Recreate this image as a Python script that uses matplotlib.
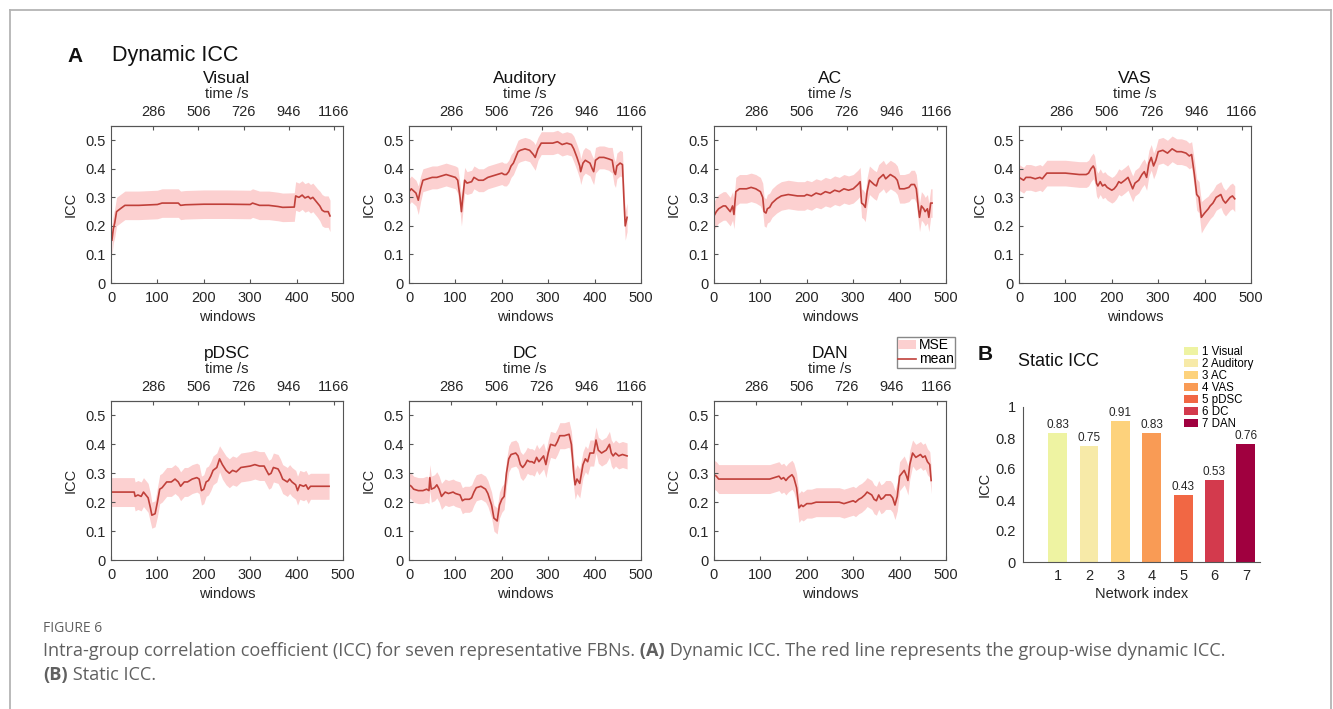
import numpy as np
import matplotlib
matplotlib.use('Agg')
import matplotlib.pyplot as plt
from matplotlib.patches import Patch
from matplotlib.lines import Line2D

plt.rcParams['font.family'] = ['Liberation Sans', 'DejaVu Sans']

# dynamic ICC per network: (window, mean ICC, MSE)
visual = [(2, .15, .05), (5, .19, .05), (8, .21, .05), (12, .25, .05), (20, .26, .05), (30, .272, .05),
          (60, .272, .05), (100, .275, .05), (110, .28, .05), (145, .28, .05), (150, .272, .05),
          (160, .274, .05), (200, .276, .05), (250, .276, .05), (300, .275, .05), (305, .28, .05),
          (320, .272, .05), (340, .272, .05), (360, .268, .05), (370, .265, .05), (395, .266, .05),
          (398, .305, .05), (405, .30, .05), (412, .308, .05), (418, .298, .05), (425, .303, .05),
          (430, .295, .05), (435, .30, .05), (440, .29, .05), (445, .28, .05), (450, .27, .052),
          (455, .255, .055), (460, .25, .055), (468, .25, .055), (472, .235, .055)]

auditory = [(0, .32, .045), (5, .33, .045), (15, .315, .045), (20, .29, .05), (25, .33, .045),
            (30, .36, .04), (40, .365, .04), (50, .37, .04), (60, .37, .04), (70, .375, .04),
            (80, .38, .04), (90, .375, .04), (100, .37, .04), (105, .36, .045), (110, .30, .05),
            (113, .25, .05), (116, .30, .05), (120, .36, .045), (125, .35, .04), (135, .355, .04),
            (140, .37, .04), (150, .36, .04), (160, .36, .04), (170, .37, .04), (180, .375, .04),
            (190, .38, .04), (200, .385, .04), (205, .38, .04), (210, .38, .04), (215, .39, .04),
            (220, .41, .04), (225, .42, .04), (230, .44, .04), (235, .46, .04), (240, .465, .04),
            (250, .47, .04), (260, .465, .04), (268, .45, .045), (272, .44, .045), (278, .47, .04),
            (285, .49, .04), (300, .49, .04), (310, .49, .04), (320, .495, .04), (330, .485, .04),
            (340, .49, .04), (350, .485, .04), (355, .47, .045), (362, .44, .045), (368, .41, .045),
            (370, .39, .045), (375, .42, .045), (380, .43, .045), (390, .42, .045), (395, .40, .045),
            (398, .39, .045), (402, .43, .045), (410, .44, .04), (420, .44, .04), (430, .435, .04),
            (438, .43, .045), (442, .39, .045), (445, .38, .045), (448, .41, .045), (455, .42, .045),
            (460, .415, .045), (463, .30, .05), (466, .20, .05), (470, .23, .05)]

ac = [(0, .235, .05), (5, .25, .05), (10, .26, .05), (20, .27, .05), (25, .27, .05), (30, .26, .05),
      (35, .25, .05), (40, .27, .05), (43, .24, .05), (47, .32, .05), (55, .33, .05), (70, .33, .05),
      (80, .335, .05), (90, .33, .05), (95, .325, .05), (100, .32, .05), (105, .30, .05), (108, .25, .05),
      (112, .245, .05), (115, .26, .05), (120, .265, .05), (125, .28, .05), (135, .295, .05),
      (145, .305, .05), (160, .31, .05), (180, .305, .05), (195, .305, .05), (200, .31, .05),
      (210, .305, .05), (220, .315, .05), (230, .31, .05), (240, .32, .05), (250, .315, .05),
      (260, .325, .05), (270, .32, .05), (280, .33, .05), (290, .325, .05), (300, .33, .05),
      (310, .345, .05), (315, .355, .05), (318, .28, .05), (322, .275, .05), (326, .265, .05),
      (330, .32, .05), (335, .36, .05), (345, .345, .05), (350, .34, .05), (355, .365, .05),
      (365, .38, .05), (370, .365, .05), (380, .38, .05), (390, .37, .05), (395, .36, .05),
      (400, .33, .05), (410, .33, .05), (420, .335, .05), (425, .345, .05), (432, .345, .05),
      (436, .33, .05), (440, .27, .05), (443, .23, .05), (447, .27, .05), (452, .26, .05),
      (455, .25, .05), (460, .26, .05), (463, .23, .05), (467, .28, .05), (470, .28, .05)]

vas = [(0, .37, .045), (10, .36, .045), (15, .37, .045), (25, .37, .045), (35, .365, .045),
       (45, .37, .045), (50, .365, .045), (55, .375, .045), (60, .385, .045), (80, .385, .045),
       (100, .385, .045), (130, .38, .045), (145, .38, .045), (150, .385, .045), (155, .40, .045),
       (160, .41, .045), (163, .40, .045), (167, .35, .045), (170, .34, .045), (175, .355, .045),
       (180, .34, .045), (185, .345, .045), (190, .335, .045), (195, .33, .045), (200, .325, .045),
       (205, .33, .045), (210, .34, .045), (215, .355, .045), (220, .35, .045), (228, .36, .045),
       (235, .37, .045), (240, .35, .045), (245, .33, .045), (250, .35, .045), (258, .36, .045),
       (265, .38, .045), (270, .39, .045), (275, .37, .045), (280, .42, .045), (285, .44, .045),
       (290, .41, .045), (295, .43, .045), (300, .46, .045), (310, .465, .045), (320, .455, .045),
       (330, .47, .045), (340, .46, .045), (350, .46, .045), (360, .455, .045), (367, .445, .045),
       (372, .45, .045), (378, .38, .05), (383, .31, .055), (388, .30, .055), (393, .23, .055),
       (400, .245, .05), (408, .26, .045), (412, .27, .045), (418, .28, .045), (425, .30, .045),
       (430, .305, .045), (435, .31, .045), (440, .29, .045), (445, .28, .045), (450, .29, .045),
       (455, .30, .045), (460, .305, .045), (465, .295, .045)]

pdsc = [(0, .235, .05), (50, .235, .05), (52, .22, .05), (58, .225, .05), (65, .22, .05),
        (70, .235, .05), (75, .225, .05), (80, .215, .05), (85, .18, .05), (88, .155, .045),
        (95, .16, .045), (100, .20, .05), (105, .245, .05), (110, .25, .05), (115, .26, .05),
        (120, .27, .05), (130, .27, .05), (138, .28, .05), (145, .27, .05), (150, .255, .05),
        (158, .27, .05), (165, .27, .05), (175, .28, .05), (185, .285, .05), (190, .28, .05),
        (195, .24, .05), (200, .245, .05), (205, .27, .05), (210, .275, .05), (215, .29, .05),
        (220, .31, .05), (228, .32, .05), (234, .35, .045), (240, .33, .05), (248, .31, .05),
        (255, .30, .05), (262, .31, .05), (270, .305, .05), (280, .32, .05), (300, .325, .05),
        (310, .33, .05), (320, .325, .05), (330, .325, .05), (335, .31, .05), (340, .295, .05),
        (345, .30, .05), (350, .32, .05), (360, .315, .05), (365, .30, .05), (370, .28, .05),
        (380, .27, .05), (385, .28, .05), (390, .27, .05), (398, .26, .05), (402, .24, .05),
        (407, .26, .05), (415, .255, .05), (420, .26, .05), (425, .245, .05), (430, .255, .045),
        (440, .255, .045), (470, .255, .045)]

dc = [(0, .26, .045), (5, .255, .045), (10, .245, .045), (20, .24, .045), (30, .24, .045),
      (38, .245, .045), (43, .24, .045), (45, .285, .045), (48, .245, .045), (55, .25, .045),
      (60, .26, .045), (65, .245, .045), (70, .22, .045), (78, .235, .045), (85, .23, .045),
      (95, .235, .045), (100, .23, .045), (110, .225, .045), (115, .205, .045), (120, .21, .045),
      (130, .21, .045), (135, .215, .045), (140, .235, .045), (145, .25, .045), (155, .255, .045),
      (165, .245, .045), (170, .23, .045), (178, .19, .045), (183, .145, .045), (190, .135, .045),
      (195, .19, .045), (200, .21, .045), (205, .22, .045), (210, .30, .045), (215, .35, .045),
      (220, .365, .045), (230, .37, .045), (235, .36, .045), (240, .33, .045), (245, .32, .045),
      (250, .33, .045), (255, .345, .045), (260, .34, .045), (265, .34, .045), (270, .335, .045),
      (275, .355, .045), (280, .34, .045), (285, .35, .045), (290, .36, .045), (295, .33, .045),
      (300, .37, .045), (305, .40, .045), (315, .395, .045), (320, .41, .045), (325, .43, .045),
      (335, .43, .045), (345, .435, .045), (350, .40, .045), (355, .30, .05), (358, .26, .05),
      (362, .28, .05), (368, .265, .05), (375, .33, .045), (380, .35, .045), (385, .34, .045),
      (390, .37, .045), (398, .37, .045), (403, .415, .045), (408, .38, .045), (415, .37, .045),
      (425, .38, .045), (432, .40, .045), (436, .37, .045), (440, .36, .045), (445, .37, .045),
      (452, .36, .045), (460, .365, .045), (470, .36, .045)]

dan = [(0, .295, .05), (5, .29, .05), (10, .28, .05), (50, .28, .05), (120, .28, .05),
       (130, .285, .05), (140, .29, .05), (145, .28, .05), (150, .285, .05), (155, .275, .05),
       (160, .285, .05), (168, .295, .05), (172, .285, .05), (178, .25, .05), (183, .18, .05),
       (188, .19, .05), (192, .185, .05), (200, .195, .05), (210, .195, .05), (220, .20, .05),
       (270, .20, .05), (280, .195, .05), (290, .20, .05), (300, .205, .05), (305, .20, .05),
       (312, .21, .05), (318, .215, .05), (325, .225, .05), (330, .235, .05), (335, .23, .05),
       (340, .225, .05), (345, .21, .05), (350, .205, .05), (355, .225, .05), (360, .21, .05),
       (365, .215, .05), (370, .225, .05), (380, .225, .05), (385, .215, .05), (390, .19, .05),
       (395, .22, .05), (400, .29, .05), (405, .30, .05), (410, .31, .05), (415, .29, .05),
       (418, .275, .05), (422, .33, .05), (428, .37, .045), (435, .355, .045), (440, .36, .045),
       (445, .365, .045), (450, .355, .045), (455, .36, .045), (460, .34, .045), (465, .33, .045),
       (468, .275, .045)]

network_names = ['Visual', 'Auditory', 'AC', 'VAS', 'pDSC', 'DC', 'DAN']
dynamic_icc = [visual, auditory, ac, vas, pdsc, dc, dan]

# static ICC
network_index = [1, 2, 3, 4, 5, 6, 7]
static_icc = [0.83, 0.75, 0.91, 0.83, 0.43, 0.53, 0.76]
bar_colors = ['#eef3a2', '#f7eaa8', '#fdd27c', '#f99b55', '#f16744', '#d33a4d', '#a0003f']

time_ticks = [286, 506, 726, 946, 1166]
T0, DT = 80.0, 2.26   # time of window 0 and seconds per window

line_color = '#c0403a'
band_color = '#fcd0d0'
txt = '#262626'
spine = '#555555'

W, H = 1333, 709
fig = plt.figure(figsize=(W / 100, H / 100), dpi=100)


def box(l, r, t, b):
    return [l / W, 1 - b / H, (r - l) / W, (b - t) / H]


panel_boxes = [box(111, 343, 126, 283), box(409, 641, 126, 283), box(714, 946, 126, 283), box(1019, 1251, 126, 283),
               box(111, 343, 401, 560), box(409, 641, 401, 560), box(714, 946, 401, 560)]

for name, data, rect in zip(network_names, dynamic_icc, panel_boxes):
    ax = fig.add_axes(rect)
    win, mean, mse = np.array(data).T
    ax.fill_between(win, mean - mse, mean + mse, color=band_color, lw=0)
    ax.plot(win, mean, color=line_color, lw=1.2)
    ax.set_xlim(0, 500)
    ax.set_ylim(0, 0.55)
    ax.set_xticks([0, 100, 200, 300, 400, 500])
    ax.set_yticks([0, 0.1, 0.2, 0.3, 0.4, 0.5])
    ax.set_yticklabels(['0', '0.1', '0.2', '0.3', '0.4', '0.5'])
    ax.tick_params(direction='in', length=3, labelsize=10.5, colors=spine, labelcolor=txt, pad=4,
                   right=False, top=False)
    ax.tick_params(axis='x', pad=6)
    for s in ax.spines.values():
        s.set_color(spine)
        s.set_linewidth(0.8)
    ax.set_xlabel('windows', fontsize=10.5, color=txt, labelpad=3)
    ax.set_ylabel('ICC', fontsize=10.5, color=txt, labelpad=5)
    top = ax.secondary_xaxis('top', functions=(lambda w: T0 + DT * w, lambda t: (t - T0) / DT))
    top.set_xticks(time_ticks)
    top.tick_params(direction='in', length=3, labelsize=10.5, colors=spine, labelcolor=txt, pad=5)
    top.spines['top'].set_color(spine)
    top.spines['top'].set_linewidth(0.8)
    top.set_xlabel('time /s', fontsize=10.5, color=txt, labelpad=5)
    ax.set_title(name, fontsize=12.5, color='#111111', pad=3)

# legend for the band and the mean line
fig.legend([Patch(facecolor=band_color, edgecolor='none'), Line2D([], [], color=line_color, lw=1.2)],
           ['MSE', 'mean'], loc='upper left', bbox_to_anchor=(897 / W, 1 - 337 / H), fontsize=10,
           frameon=True, fancybox=False, edgecolor='#888888', framealpha=1, borderpad=0.1,
           labelspacing=0.0, handlelength=1.3, handletextpad=0.2, borderaxespad=0)

# static ICC bars
axb = fig.add_axes(box(1023, 1260, 407, 562))
axb.bar(network_index, static_icc, width=0.6, color=bar_colors)
for i, v in zip(network_index, static_icc):
    axb.text(i, v + 0.012, f'{v:.2f}', ha='center', va='bottom', fontsize=8.5, color=txt)
axb.set_xlim(-0.1, 7.45)
axb.set_ylim(0, 1)
axb.set_xticks(network_index)
axb.set_yticks([0, 0.2, 0.4, 0.6, 0.8, 1])
axb.set_yticklabels(['0', '0.2', '0.4', '0.6', '0.8', '1'])
axb.tick_params(direction='in', length=0, labelsize=10.5, labelcolor=txt, pad=5)
axb.spines['top'].set_visible(False)
axb.spines['right'].set_visible(False)
for s in ['left', 'bottom']:
    axb.spines[s].set_color(spine)
    axb.spines[s].set_linewidth(0.8)
axb.set_xlabel('Network index', fontsize=10.5, color=txt, labelpad=3)
axb.set_ylabel('ICC', fontsize=10.5, color=txt, labelpad=3)

fig.legend([Patch(facecolor=c, edgecolor='none') for c in bar_colors],
           [f'{i} {n}' for i, n in zip(network_index, network_names)],
           loc='upper left', bbox_to_anchor=(1184 / W, 1 - 346 / H), fontsize=8.3, frameon=False,
           borderpad=0, borderaxespad=0, labelspacing=0.0, handlelength=1.2, handleheight=0.8,
           handletextpad=0.4)

# panel headings
fig.text(67 / W, 1 - 57 / H, 'A', fontsize=15, fontweight='bold', va='center', color='#111111')
fig.text(112 / W, 1 - 55 / H, 'Dynamic ICC', fontsize=15.5, va='center', color='#111111')
fig.text(978 / W, 1 - 355 / H, 'B', fontsize=15, fontweight='bold', va='center', color='#111111')
fig.text(1018 / W, 1 - 362 / H, 'Static ICC', fontsize=13, va='center', color='#111111')

# caption
cap = dict(family=['Open Sans', 'DejaVu Sans'], fontsize=13.1, color='#606060')
fig.text(43 / W, 1 - 629 / H, 'FIGURE 6', family=['Open Sans', 'DejaVu Sans'], fontsize=10,
         color='#606060', va='center')
t1 = fig.text(43 / W, 1 - 651 / H, 'Intra-group correlation coefficient (ICC) for seven representative FBNs.',
              va='center', **cap)
a2 = plt.annotate(' (A)', xy=(1, 0), xycoords=t1, va='bottom', fontweight='bold', **cap)
plt.annotate(' Dynamic ICC. The red line represents the group-wise dynamic ICC.', xy=(1, 0), xycoords=a2,
             va='bottom', **cap)
b1 = fig.text(43 / W, 1 - 675 / H, '(B)', va='center', fontweight='bold', **cap)
plt.annotate(' Static ICC.', xy=(1, 0), xycoords=b1, va='bottom', **cap)

# page frame
for xs, ys in [((10 / W, 10 / W), (0, 1 - 10 / H)), ((10 / W, 1331 / W), (1 - 10 / H, 1 - 10 / H)),
               ((1331 / W, 1331 / W), (0, 1 - 10 / H))]:
    fig.add_artist(Line2D(xs, ys, transform=fig.transFigure, color='#b4b4b4', lw=1.3))

fig.savefig('out.png', dpi=100)
